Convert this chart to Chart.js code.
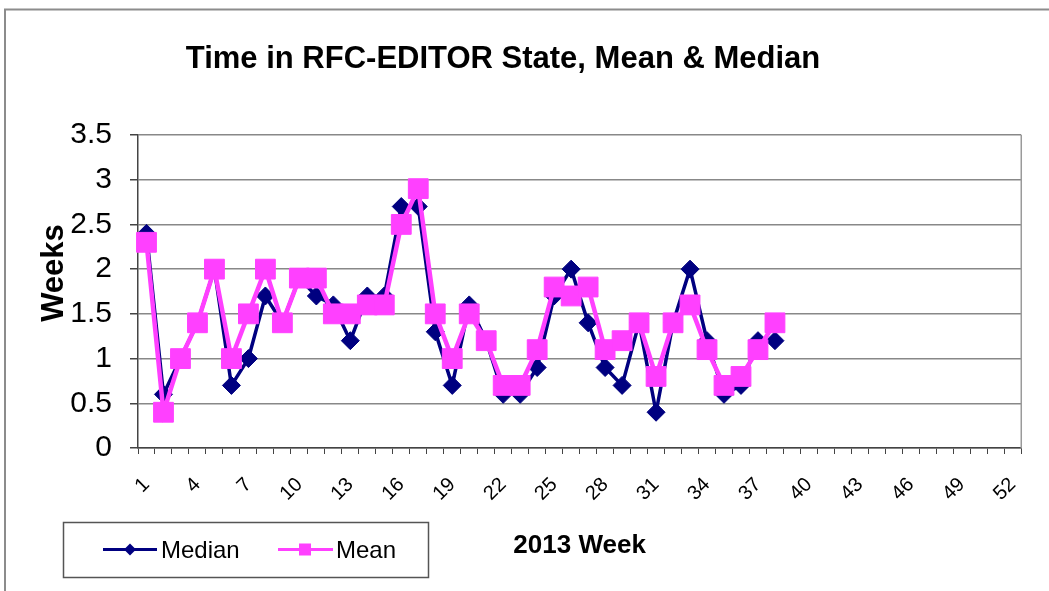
<!DOCTYPE html>
<html>
<head>
<meta charset="utf-8">
<script src="https://cdn.jsdelivr.net/npm/chart.js@4.4.1/dist/chart.umd.min.js"></script>
<style>
html,body{margin:0;padding:0;background:#fff;}
canvas{display:block;}
</style>
</head>
<body>
<canvas id="c" width="1049" height="591"></canvas>
<script>
const chartTitle = 'Time in RFC-EDITOR State, Mean & Median';
const yTitle = 'Weeks';
const xTitle = '2013 Week';
const weeks = ['1','2','3','4','5','6','7','8','9','10','11','12','13','14','15','16','17','18','19','20','21','22','23','24','25','26','27','28','29','30','31','32','33','34','35','36','37','38','39','40','41','42','43','44','45','46','47','48','49','50','51','52'];
const shownWeekLabels = ['1','4','7','10','13','16','19','22','25','28','31','34','37','40','43','46','49','52'];
const yTickLabels = ['0','0.5','1','1.5','2','2.5','3','3.5'];
const median = [2.4,0.6,1.0,1.4,2.0,0.7,1.0,1.7,1.4,1.9,1.7,1.6,1.2,1.7,1.7,2.7,2.7,1.3,0.7,1.6,1.2,0.6,0.6,0.9,1.7,2.0,1.4,0.9,0.7,1.4,0.4,1.4,2.0,1.2,0.6,0.7,1.2,1.2];
const mean   = [2.3,0.4,1.0,1.4,2.0,1.0,1.5,2.0,1.4,1.9,1.9,1.5,1.5,1.6,1.6,2.5,2.9,1.5,1.0,1.5,1.2,0.7,0.7,1.1,1.8,1.7,1.8,1.1,1.2,1.4,0.8,1.4,1.6,1.1,0.7,0.8,1.1,1.4];

const FONT = '"Liberation Sans", Arial, Helvetica, sans-serif';
const NAVY = '#000080';
const PINK = '#ff40ff';

const decor = {
  id: 'decor',
  beforeDraw(chart) {
    const ctx = chart.ctx;
    ctx.save();
    ctx.fillStyle = '#fff';
    ctx.fillRect(0, 0, chart.width, chart.height);
    ctx.restore();
  },
  afterDraw(chart) {
    const ctx = chart.ctx;
    const a = chart.chartArea;
    ctx.save();
    // outer frame
    ctx.strokeStyle = '#8c8c8c';
    ctx.lineWidth = 2;
    ctx.strokeRect(5, 9.5, 1200, 800);
    // plot area right border
    ctx.strokeStyle = '#9a9a9a';
    ctx.lineWidth = 1.5;
    ctx.beginPath();
    ctx.moveTo(a.right, a.top);
    ctx.lineTo(a.right, a.bottom);
    ctx.stroke();
    // title
    ctx.fillStyle = '#000';
    ctx.font = 'bold 31px ' + FONT;
    ctx.textAlign = 'center';
    ctx.textBaseline = 'alphabetic';
    ctx.fillText(chartTitle, 503, 68);
    // y title
    ctx.save();
    ctx.translate(63, 273);
    ctx.rotate(-Math.PI / 2);
    ctx.font = 'bold 31px ' + FONT;
    ctx.fillText(yTitle, 0, 0);
    ctx.restore();
    // legend
    ctx.strokeStyle = '#555';
    ctx.lineWidth = 1.5;
    ctx.strokeRect(63.5, 522.5, 365, 55);
    const ly = 549.5;
    const ds = chart.data.datasets;
    // Median entry
    ctx.strokeStyle = ds[0].borderColor;
    ctx.lineWidth = 3;
    ctx.beginPath(); ctx.moveTo(103, ly); ctx.lineTo(157, ly); ctx.stroke();
    ctx.fillStyle = ds[0].borderColor;
    ctx.beginPath();
    ctx.moveTo(130, ly - 6); ctx.lineTo(136, ly); ctx.lineTo(130, ly + 6); ctx.lineTo(124, ly);
    ctx.closePath(); ctx.fill();
    // Mean entry
    ctx.strokeStyle = ds[1].borderColor;
    ctx.beginPath(); ctx.moveTo(278, ly); ctx.lineTo(333, ly); ctx.stroke();
    ctx.fillStyle = ds[1].borderColor;
    ctx.fillRect(299, ly - 6, 12, 12);
    ctx.fillStyle = '#000';
    ctx.font = '24px ' + FONT;
    ctx.textAlign = 'left';
    ctx.textBaseline = 'middle';
    ctx.fillText(ds[0].label, 161, ly + 2);
    ctx.fillText(ds[1].label, 336, ly + 2);
    ctx.restore();
  }
};

new Chart(document.getElementById('c'), {
  type: 'line',
  data: {
    labels: weeks,
    datasets: [
      {
        label: 'Median',
        data: median,
        borderColor: NAVY,
        backgroundColor: NAVY,
        borderWidth: 3.5,
        pointStyle: 'rectRot',
        pointRadius: 9,
        pointBorderWidth: 1,
        pointBackgroundColor: NAVY,
        pointBorderColor: NAVY,
        tension: 0,
        fill: false,
        order: 1
      },
      {
        label: 'Mean',
        data: mean,
        borderColor: PINK,
        backgroundColor: PINK,
        borderWidth: 4.5,
        pointStyle: 'rect',
        pointRadius: 14,
        pointBorderWidth: 1,
        pointBackgroundColor: PINK,
        pointBorderColor: PINK,
        tension: 0,
        fill: false,
        order: 0
      }
    ]
  },
  options: {
    responsive: false,
    animation: false,
    devicePixelRatio: 1,
    layout: { padding: { top: 135, right: 27, bottom: 0, left: 0 } },
    plugins: {
      legend: { display: false },
      title: { display: false },
      tooltip: { enabled: false }
    },
    scales: {
      x: {
        type: 'category',
        offset: true,
        grid: { drawOnChartArea: false, drawTicks: true, tickLength: 6, offset: true, color: '#444', lineWidth: 1 },
        border: { display: true, color: '#444', width: 1.5 },
        ticks: {
          autoSkip: false,
          minRotation: 45,
          maxRotation: 45,
          padding: 19,
          color: '#000',
          font: { family: FONT, size: 20 },
          callback: function(value, index) {
            const l = weeks[index];
            return shownWeekLabels.includes(l) ? l : '';
          }
        },
        title: {
          display: true,
          text: xTitle,
          color: '#000',
          font: { family: FONT, size: 26, weight: 'bold' },
          padding: { top: 0, bottom: 30 }
        },
        afterFit: function(s) { s.height = 143; }
      },
      y: {
        min: 0,
        max: 3.5,
        ticks: {
          stepSize: 0.5,
          padding: 18,
          color: '#000',
          font: { family: FONT, size: 30 },
          callback: function(value, index) { return yTickLabels[index]; }
        },
        grid: { color: '#888', lineWidth: 1.5, drawTicks: true, tickLength: 8, tickColor: '#444' },
        border: { display: true, color: '#444', width: 1.5 },
        afterFit: function(s) { s.width = 138; }
      }
    }
  },
  plugins: [decor]
});
</script>
</body>
</html>
